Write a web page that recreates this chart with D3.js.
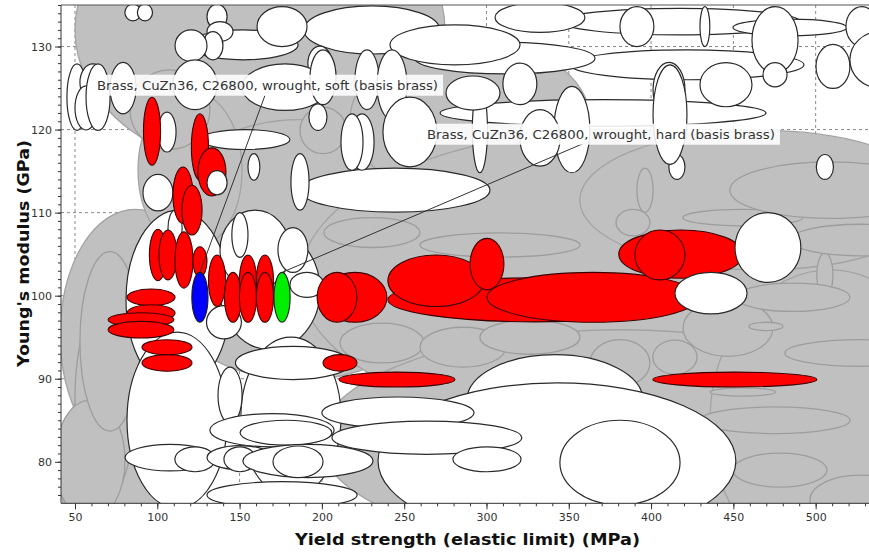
<!DOCTYPE html>
<html><head><meta charset="utf-8">
<script src="https://cdn.jsdelivr.net/npm/d3@7"></script>
<style>body{margin:0;background:#fff}svg{display:block}</style>
</head><body>
<svg id="chart" width="869" height="553"></svg>
<script>
// ---------- data (MPa, GPa): [centre yield, centre modulus, half-range yield, half-range modulus]
const xTickValues = [50,100,150,200,250,300,350,400,450,500];
const yTickValues = [80,90,100,110,120,130];

const grayEnvelopes = [
  [162.4,132.0,112.4,16.9],[186.7,105.5,97.2,15.7],[86.5,95.3,45.6,15.1],[77.3,79.0,36.5,12.1],
  [290.0,121.2,72.9,9.6],[381.1,101.9,194.4,18.1],[466.1,111.5,109.4,8.4],[381.1,82.6,182.3,13.3],
  [508.7,85.0,72.9,18.1],[119.9,115.1,31.6,9.6]
];
const grayMaterials = [
  [230.4,107.6,29.2,1.8],[236.5,94.3,25.5,2.4],[285.7,93.8,26.1,2.4],[455.8,109.4,36.5,1.0],
  [389.0,108.8,10.3,1.6],[446.7,96.1,27.3,3.4],[469.8,96.3,10.3,0.5],[526.9,93.1,45.6,1.6],
  [381.1,91.9,18.2,2.8],[414.5,92.6,13.4,2.05],[505.6,102.5,4.9,2.65],[486.2,99.8,34.6,1.7],
  [455.8,88.4,20.0,0.5],[475.3,85.0,45.6,1.6],[478.3,79.0,28.6,2.05],[526.9,75.4,30.4,3.0],
  [68.2,87.4,18.2,12.1],[59.1,80.2,21.3,7.2],[71.2,94.5,18.2,10.8],[107.7,122.4,24.3,4.8],
  [508.7,112.7,60.8,3.4],[396.3,112.7,4.9,2.65],[200.7,119.9,14.0,2.8],[308.2,106.1,48.6,1.45],
  [326.4,95.0,30.4,2.05],[526.9,106.7,42.5,1.9]
];
const otherMaterials = [
  // centre cluster
  [112.6,99.5,31.6,10.8],[112.0,85.0,30.4,10.6],[168.5,100.7,30.4,7.2],[181.2,85.4,30.4,9.6],
  [159.4,105.5,21.3,4.8],[150.2,107.3,4.9,2.7],[110.8,108.1,4.3,2.2],[144.2,88.0,7.3,3.4],
  [182.4,105.5,9.1,2.7],[190.9,101.3,10.3,1.5],[140.5,96.8,10.6,2.0],[182.4,91.9,34.9,2.0],
  [169.7,83.8,37.7,2.0],[178.2,83.5,27.9,1.5],
  [107.7,80.5,27.3,1.6],[122.9,80.3,12.2,1.5],[150.2,80.5,20.0,1.45],[150.2,80.3,9.7,1.5],
  [191.5,80.1,39.5,2.0],[185.5,80.0,15.2,1.9],[175.8,76.0,45.6,1.6],
  [341.6,87.4,53.5,5.5],[342.8,80.1,108.7,9.4],[381.1,79.9,36.5,5.1],[246.2,85.9,46.2,1.9],
  [263.8,82.9,57.7,2.0],[300.3,80.3,20.7,1.5],
  // upper band
  [370.8,122.0,99.0,1.6],[421.8,127.8,71.1,1.8],[417.5,133.0,72.9,1.6],[311.2,128.6,54.7,1.9],
  [230.4,132.0,41.3,2.9],[280.9,130.2,39.5,2.4],[332.5,133.5,27.3,1.8],[484.4,132.3,34.6,1.0],
  [152.1,130.2,33.4,1.8],[175.8,132.4,15.2,2.4],[244.4,112.7,57.7,2.65],
  [85.2,134.1,4.9,1.0],[92.5,134.1,4.6,1.0],[136.3,133.6,6.1,1.5],[138.1,131.8,7.9,1.2],
  [133.8,130.1,6.1,1.7],[120.5,130.1,9.7,1.9],
  [391.4,132.4,10.3,2.4],[432.7,132.4,3.0,2.4],[475.3,130.8,14.0,4.0],[475.3,126.6,7.3,1.45],
  [528.1,132.4,9.7,2.4],[410.9,124.8,9.7,3.3],[445.5,125.4,15.8,2.65],[510.5,127.6,10.3,2.65],
  [539.0,128.4,18.2,3.4],[415.7,115.5,4.9,1.5],[505.6,115.5,5.2,1.5],[411.5,121.8,10.3,6.0],
  [351.9,120.0,10.9,5.2],[198.8,128.0,7.3,2.05],[227.4,126.0,7.3,3.6],[242.6,125.4,9.1,4.2],
  [253.5,119.7,16.4,4.2],[224.4,118.5,7.3,3.4],[218.3,118.5,6.7,3.4],[197.6,121.5,5.5,1.6],
  [186.7,113.7,5.5,3.4],[296.0,120.0,4.6,5.2],[291.8,124.4,16.4,2.05],[320.3,125.5,10.3,2.5],
  [332.5,119.0,12.2,3.4],
  [51.2,123.9,6.1,4.0],[60.9,125.7,7.9,2.2],[56.7,122.6,6.7,2.65],[64.0,123.9,7.3,4.0],
  [79.2,125.0,7.9,3.1],[105.9,119.7,5.5,2.4],[122.9,125.4,13.4,3.0],[177.6,125.1,26.1,2.8],
  [153.3,118.8,27.3,1.2],[200.7,126.3,7.9,3.3],[100.4,112.4,9.1,2.2],[158.7,115.5,3.6,1.6]
];
const copperAlloys = [
  [96.8,119.8,5.2,4.1],[125.9,117.9,5.2,4.0],[133.2,114.9,8.5,2.9],[115.6,112.1,6.1,3.4],
  [121.1,110.3,6.1,3.0],[100.4,104.9,5.2,3.1],[106.5,104.9,5.5,3.0],[116.2,104.3,5.5,3.4],
  [125.9,104.1,4.3,1.8],[136.3,101.8,5.2,3.1],[146.0,99.8,5.2,3.0],[155.1,101.8,5.2,3.1],
  [155.1,99.8,5.2,3.0],[165.4,101.8,5.2,3.1],[165.4,99.8,5.2,3.0],
  [96.2,99.8,14.6,1.0],[96.2,97.9,14.6,1.0],[90.1,97.1,20.0,0.85],[90.1,95.9,20.0,1.0],
  [105.9,93.8,15.2,0.9],[105.9,91.9,15.2,1.0],
  [329.4,99.5,89.3,2.65],[364.7,99.8,64.4,3.0],[220.1,99.8,19.4,3.0],[209.2,99.8,12.1,3.0],
  [269.3,101.8,29.2,3.1],[300.3,103.8,10.3,3.1],[418.1,105.0,37.7,2.9],[405.4,104.9,15.2,3.0],
  [211.0,91.9,10.3,1.0],[245.6,89.9,35.2,0.9],[450.9,89.9,49.8,0.9]
];
const overlyingMaterials = [
  [136.3,113.6,6.1,1.45],[436.4,100.3,21.9,2.5],[471.0,105.8,20.0,4.2]
];
const brassSoft = [125.9,99.8,4.9,3.0];
const brassHard = [175.8,99.8,4.9,3.0];
const labelTexts = ["Brass, CuZn36, C26800, wrought, soft (basis brass)",
                    "Brass, CuZn36, C26800, wrought, hard (basis brass)"];
const labelAnchors = [[63.4,124.8,165.4,124.1],[263.8,118.9,358.6,118.3]];
const xTitle = "Yield strength (elastic limit) (MPa)";
const yTitle = "Young's modulus (GPa)";

// ---------- layout
const svg = d3.select("#chart");
const L = 61, R = 869, T = 5, B = 503.3;
const x = d3.scaleLinear().domain([41.5, 532.4]).range([L, R]);
const y = d3.scaleLinear().domain([75, 135]).range([B, T]);
const font = "'DejaVu Sans', Verdana, sans-serif";

svg.append("defs").append("clipPath").attr("id","plotclip")
  .append("rect").attr("x",L).attr("y",T).attr("width",R-L).attr("height",B-T);

const plot = svg.append("g").attr("clip-path","url(#plotclip)");

// grid
plot.append("g").selectAll("line").data(xTickValues).enter().append("line")
  .attr("x1",d=>x(d)).attr("x2",d=>x(d)).attr("y1",T).attr("y2",B)
  .attr("stroke","#888").attr("stroke-dasharray","3,3").attr("stroke-width",1);
plot.append("g").selectAll("line").data(yTickValues).enter().append("line")
  .attr("y1",d=>y(d)).attr("y2",d=>y(d)).attr("x1",L).attr("x2",R)
  .attr("stroke","#888").attr("stroke-dasharray","3,3").attr("stroke-width",1);

function layer(data, fill, stroke, sw) {
  plot.append("g").selectAll("ellipse").data(data).enter().append("ellipse")
    .attr("cx", d => x(d[0])).attr("cy", d => y(d[1]))
    .attr("rx", d => x(d[0] + d[2]) - x(d[0]))
    .attr("ry", d => y(d[1] - d[3]) - y(d[1]))
    .attr("fill", fill).attr("stroke", stroke).attr("stroke-width", sw);
}
layer(grayEnvelopes, "#c0c0c0", "#a3a3a3", 1.3);
layer(grayMaterials, "#c0c0c0", "#9d9d9d", 1.3);
layer(otherMaterials, "#ffffff", "#2a2a2a", 1.2);
layer(copperAlloys, "#ff0000", "#3a0000", 1.1);
layer(overlyingMaterials, "#ffffff", "#2a2a2a", 1.2);
layer([brassSoft], "#0000ff", "#1a1a1a", 1.1);
layer([brassHard], "#00ee00", "#1a1a1a", 1.1);

// leader lines and labels
const targets = [brassSoft, brassHard];
const ann = svg.append("g");
labelAnchors.forEach((a, i) => {
  const t = targets[i];
  ann.append("line")
    .attr("x1", x(a[2])).attr("y1", y(a[3]))
    .attr("x2", x(t[0])).attr("y2", y(t[1] + t[3]))
    .attr("stroke", "#333").attr("stroke-width", 1);
});
labelAnchors.forEach((a, i) => {
  const g = ann.append("g");
  const txt = g.append("text").attr("x", x(a[0])).attr("y", y(a[1]))
    .attr("font-family", font).attr("font-size", 12).attr("fill", "#333")
    .attr("textLength", i === 0 ? 341 : 348).attr("lengthAdjust", "spacingAndGlyphs")
    .text(labelTexts[i]);
  const bb = txt.node().getBBox();
  g.insert("rect", "text").attr("x", bb.x - 5).attr("y", bb.y - 4)
    .attr("width", bb.width + 10).attr("height", bb.height + 7)
    .attr("fill", "#fff").attr("fill-opacity", 0.88);
});

// frame
svg.append("line").attr("x1",L).attr("x2",R).attr("y1",T).attr("y2",T).attr("stroke","#555").attr("stroke-width",1.2);

// axes
const axL = svg.append("g").attr("transform",`translate(${L},0)`);
axL.call(d3.axisLeft(y).tickValues(d3.range(76,136,1)).tickSize(3).tickFormat(""));
axL.call(g => g.select(".domain").remove());
const axL2 = svg.append("g").attr("transform",`translate(${L},0)`);
axL2.call(d3.axisLeft(y).tickValues(yTickValues).tickSize(6).tickPadding(3).tickFormat(d3.format("d")));
axL2.select(".domain").attr("stroke","#333").attr("d",`M0,${T}V${B}`);

const axB = svg.append("g").attr("transform",`translate(0,${B})`);
axB.call(d3.axisBottom(x).tickValues(d3.range(50,531,10)).tickSize(3).tickFormat(""));
axB.call(g => g.select(".domain").remove());
const axB2 = svg.append("g").attr("transform",`translate(0,${B})`);
axB2.call(d3.axisBottom(x).tickValues(xTickValues).tickSize(6).tickPadding(4).tickFormat(d3.format("d")));
axB2.select(".domain").attr("stroke","#333").attr("d",`M${L},0H${R}`);

svg.selectAll(".tick line").attr("stroke","#333");
svg.selectAll(".tick text").attr("font-family",font).attr("font-size",11).attr("fill","#333");

svg.append("text").attr("x", 467.5).attr("y", 545)
  .attr("text-anchor","middle").attr("font-family",font).attr("font-weight","bold")
  .attr("font-size",16).attr("fill","#111").attr("textLength",345).attr("lengthAdjust","spacingAndGlyphs")
  .text(xTitle);
svg.append("text").attr("transform","translate(29,253.5) rotate(-90)")
  .attr("text-anchor","middle").attr("font-family",font).attr("font-weight","bold")
  .attr("font-size",16).attr("fill","#111").attr("textLength",227).attr("lengthAdjust","spacingAndGlyphs")
  .text(yTitle);
</script>
</body></html>
